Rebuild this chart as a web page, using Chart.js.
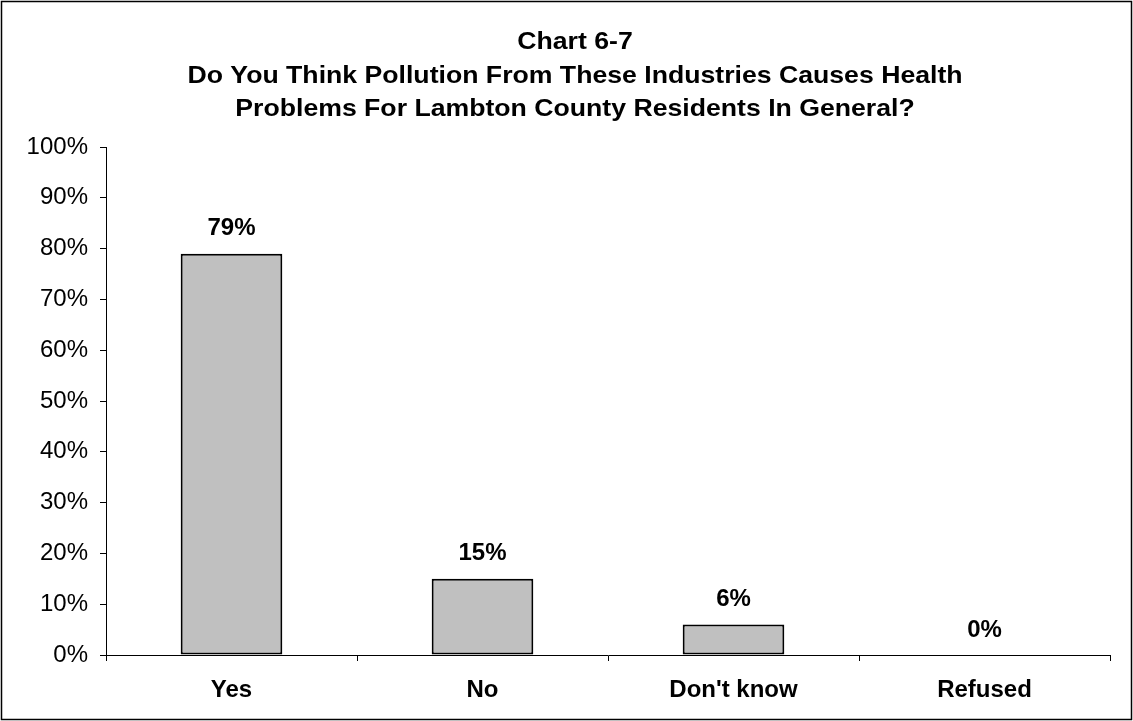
<!DOCTYPE html>
<html>
<head>
<meta charset="utf-8">
<script src="https://cdn.jsdelivr.net/npm/chart.js@4/dist/chart.umd.min.js"></script>
<style>
html,body{margin:0;padding:0;background:#fff;}
#wrap{width:1133px;height:721px;position:relative;}
</style>
</head>
<body>
<div id="wrap"><canvas id="c" width="1133" height="721"></canvas></div>
<script>
const titleLines = ["Chart 6-7", "Do You Think Pollution From These Industries Causes Health", "Problems For Lambton County Residents In General?"];
const categories = ["Yes", "No", "Don't know", "Refused"];
const values = [79, 15, 6, 0];
const yTicks = [0, 10, 20, 30, 40, 50, 60, 70, 80, 90, 100];

const FONT = "'Liberation Sans', Arial, sans-serif";

const frame = {
  id: 'frame',
  beforeDraw(chart) {
    const ctx = chart.ctx;
    ctx.save();
    ctx.fillStyle = '#fff';
    ctx.fillRect(0, 0, chart.width, chart.height);
    ctx.restore();
  },
  afterDraw(chart) {
    const ctx = chart.ctx;
    ctx.save();
    ctx.strokeStyle = '#000';
    ctx.lineWidth = 1.5;
    ctx.strokeRect(1.5, 1.5, chart.width - 3, chart.height - 3);
    ctx.fillStyle = '#000';
    ctx.font = 'bold 24px ' + FONT;
    ctx.textAlign = 'center';
    ctx.textBaseline = 'alphabetic';
    titleLines.forEach((t, i) => {
      ctx.save();
      ctx.translate(575, 49 + i * 33.5);
      ctx.scale(1.11, 1);
      ctx.fillText(t, 0, 0);
      ctx.restore();
    });
    ctx.font = 'bold 24px ' + FONT;
    const meta = chart.getDatasetMeta(0);
    meta.data.forEach((bar, i) => {
      ctx.fillText(values[i] + '%', bar.x, bar.y - 18.5);
    });
    ctx.restore();
  }
};

new Chart(document.getElementById('c'), {
  type: 'bar',
  data: {
    labels: categories,
    datasets: [{
      data: values,
      backgroundColor: '#C0C0C0',
      borderColor: '#000',
      borderWidth: 2,
      borderSkipped: false,
      barPercentage: 0.405,
      categoryPercentage: 1.0
    }]
  },
  options: {
    responsive: false,
    animation: false,
    devicePixelRatio: 1,
    layout: { padding: { top: 147, right: 23, left: 0, bottom: 0 } },
    plugins: { legend: { display: false }, title: { display: false }, tooltip: { enabled: false } },
    scales: {
      x: {
        grid: { offset: true, drawOnChartArea: false, drawTicks: true, tickLength: 6, color: '#000', lineWidth: 1 },
        border: { display: true, color: '#000', width: 1 },
        ticks: { color: '#000', font: { family: FONT, size: 24, weight: 'bold' }, padding: 15 },
        afterFit(scale) { scale.height = 66; }
      },
      y: {
        min: 0, max: 100,
        afterBuildTicks(scale) { scale.ticks = yTicks.map(v => ({ value: v })); },
        grid: { drawOnChartArea: false, drawTicks: true, tickLength: 6, color: '#000', lineWidth: 1 },
        border: { display: true, color: '#000', width: 1 },
        ticks: { color: '#000', font: { family: FONT, size: 24 }, padding: 12, callback: v => v + '%' },
        afterFit(scale) { scale.width = 106; }
      }
    }
  },
  plugins: [frame]
});
</script>
</body>
</html>
